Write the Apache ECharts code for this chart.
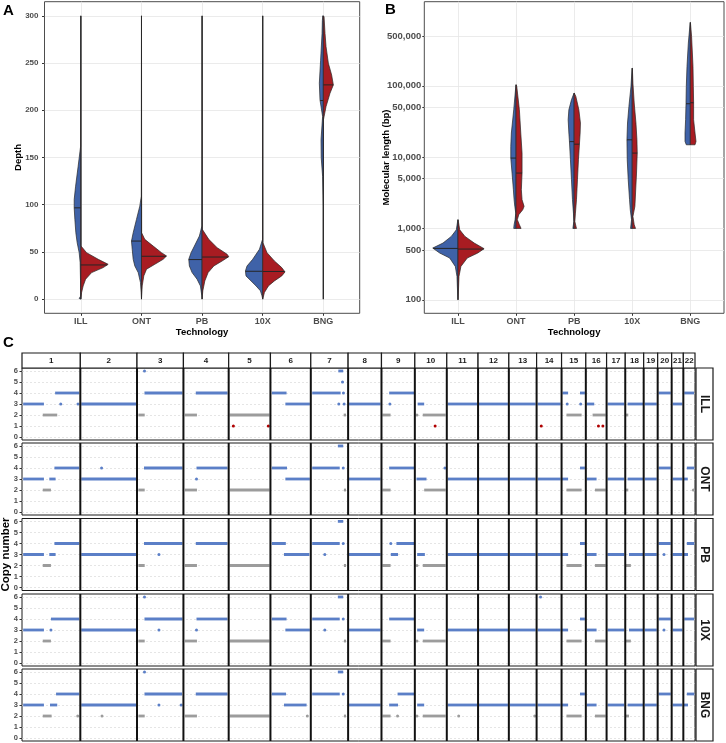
<!DOCTYPE html>
<html><head><meta charset="utf-8">
<script src="https://cdn.jsdelivr.net/npm/echarts@6/dist/echarts.min.js"></script>
<style>html,body{margin:0;padding:0;background:#fff}#c{width:726px;height:743px}</style>
</head><body><div id="c"></div>
<script>
const techs = ['ILL','ONT','PB','10X','BNG'];

// ---- Panel A: depth, split violins: [depth, half-width (category units)]
const depthBlue = [
  [[0,0],[0.7,0.028],[3,0.006],[20,0.006],[38.7,0.012],[49.2,0.028],[59.8,0.061],[70.3,0.083],[84.4,0.099],[96.7,0.11],[105.5,0.11],[119.6,0.087],[140.7,0.045],[162,0.004],[300,0.002]],
  [[0,0],[7,0.005],[17.6,0.017],[28.1,0.054],[35.1,0.11],[42.2,0.137],[52.8,0.153],[61.5,0.165],[70.3,0.137],[84.4,0.083],[98.5,0.028],[109,0.003],[300,0]],
  [[0,0],[3.5,0.005],[14,0.028],[21.1,0.083],[28.1,0.165],[35.1,0.21],[42.2,0.22],[49.2,0.182],[56.2,0.127],[66.8,0.045],[77.4,0.003],[300,0]],
  [[0,0],[3.5,0.012],[8.8,0.038],[14,0.11],[19.3,0.193],[24.6,0.276],[29.9,0.285],[35.1,0.259],[42.2,0.165],[52.8,0.054],[63.3,0.003],[300,0]],
  [[0,0],[98.5,0.002],[130,0.012],[150,0.035],[168.8,0.038],[193.4,0.012],[211,0.055],[228.7,0.066],[253,0.045],[281.4,0.021],[295,0.016],[300,0.01]]
];
const depthRed = [
  [[0,0],[7,0.012],[14,0.038],[21.1,0.078],[28.1,0.177],[33.4,0.368],[36.9,0.45],[42.2,0.286],[49.2,0.094],[56.2,0.003],[300,0]],
  [[0,0],[14,0.012],[24.6,0.038],[31.7,0.083],[36.9,0.22],[42.2,0.358],[45.7,0.413],[49.2,0.33],[56.2,0.193],[63.3,0.054],[70.3,0.003],[300,0]],
  [[0,0],[8.8,0.012],[19.3,0.045],[28.1,0.099],[35.1,0.193],[40.4,0.33],[45,0.44],[47.5,0.413],[54.5,0.248],[63.3,0.11],[73.9,0.003],[300,0]],
  [[0,0],[7,0.028],[14,0.094],[19.3,0.193],[24.6,0.314],[28.8,0.368],[33.4,0.314],[40.4,0.193],[49.2,0.071],[59.8,0.003],[300,0]],
  [[0,0],[190,0.002],[204,0.045],[218,0.11],[226.9,0.165],[237.4,0.137],[249.8,0.083],[267.3,0.045],[281.4,0.028],[299,0.012],[300,0]]
];
const depthMedBlue = [96.7, 61.5, 41.9, 29.5, 210.3];
const depthMedRed  = [36.2, 45.4, 44.6, 29.3, 226.9];
const depthTicks = [0,50,100,150,200,250,300];

// ---- Panel B: molecular length (bp)
const lenBlue = [
  [[100,0.002],[212,0.017],[293,0.046],[385,0.143],[452,0.315],[531,0.435],[624,0.258],[773,0.115],[955,0.029],[1325,0.002]],
  [[1000,0.04],[1127,0.034],[1326,0.017],[1640,0.005],[2040,0.022],[2530,0.034],[3490,0.046],[5980,0.069],[9710,0.091],[14100,0.091],[21800,0.081],[46200,0.04],[103500,0.002]],
  [[1000,0.022],[1254,0.005],[1640,0.012],[2530,0.029],[4820,0.046],[9200,0.064],[16600,0.081],[21800,0.091],[33500,0.103],[46200,0.091],[63800,0.046],[79200,0.002]],
  [[1000,0.029],[1326,0.012],[1830,0.034],[2530,0.046],[4820,0.069],[9200,0.086],[17500,0.091],[30100,0.081],[51400,0.057],[97700,0.022],[177000,0.002]],
  [[14900,0.069],[16600,0.091],[21800,0.091],[33500,0.081],[56100,0.074],[97700,0.069],[187000,0.057],[398000,0.034],[774000,0.002]]
];
const lenRed = [
  [[100,0.002],[212,0.017],[293,0.05],[385,0.16],[452,0.34],[520,0.45],[624,0.28],[773,0.12],[955,0.03],[1325,0.002]],
  [[1000,0.086],[1127,0.057],[1326,0.022],[1556,0.046],[1828,0.115],[2040,0.138],[2530,0.103],[3490,0.091],[5980,0.103],[11400,0.103],[21800,0.081],[46200,0.057],[97700,0.012],[103500,0.002]],
  [[1000,0.04],[1254,0.012],[1640,0.022],[2530,0.04],[4820,0.057],[9200,0.074],[15200,0.091],[21800,0.103],[30100,0.108],[46200,0.081],[71100,0.029],[79200,0.002]],
  [[1000,0.057],[1127,0.034],[1473,0.012],[2040,0.046],[3140,0.057],[5980,0.074],[11400,0.086],[17500,0.081],[30100,0.064],[57400,0.034],[109000,0.012],[177000,0.002]],
  [[14900,0.081],[16600,0.098],[21800,0.081],[33500,0.057],[57900,0.057],[97700,0.052],[187000,0.046],[493000,0.022],[774000,0.002]]
];
const lenMedBlue = [525, 9710, 16500, 17500, 56100];
const lenMedRed  = [514, 5980, 15200, 11400, 57900];
const lenTicks = [100,500,1000,5000,10000,50000,100000,500000];

// ---- Panel C: copy number segments [chromosome, start Mb, end Mb, copy number]
const chromosomes = ['1','2','3','4','5','6','7','8','9','10','11','12','13','14','15','16','17','18','19','20','21','22'];
const chrLen = [250,243,199,194,179,173,160,143,143,137,134,132,119,107,104,89,80,79,60,60,50,50];
const copyTicks = [0,1,2,3,4,5,6];
const cnILL = [
[1,5,94,3],[1,89,151,2],[1,142,245,4],[1,166,166,3],[1,240,240,3],
[2,4,239,3],
[3,6,33,2],[3,32,195,4],[3,32,32,6],
[4,6,58,2],[4,53,189,4],
[5,4,175,2],[5,20,20,1],[5,170,170,1],
[6,6,69,4],[6,64,169,3],
[7,6,128,4],[7,140,140,4],[7,118,139,6],[7,136,136,5],[7,120,120,3],[7,143,143,3],[7,141,151,2],
[8,4,139,3],
[9,4,39,2],[9,33,140,4],[9,36,36,3],
[10,9,9,2],[10,12,40,3],[10,34,132,2],[10,87,87,1],
[11,4,130,3],[12,4,128,3],[13,4,115,3],
[14,4,103,3],[14,20,20,1],
[15,4,28,4],[15,79,100,4],[15,24,24,3],[15,82,82,3],[15,21,86,2],
[16,4,36,3],[16,29,85,2],[16,54,54,1],[16,73,73,1],
[17,4,76,3],
[18,2,13,2],[18,10,76,3],
[19,4,56,3],[20,4,56,4],[21,4,46,3],[22,4,46,4]
];
const cnONT = [
[1,5,94,3],[1,117,144,3],[1,89,124,2],[1,139,245,4],
[2,4,239,3],[2,91,91,4],
[3,6,33,2],[3,30,195,4],
[4,6,58,2],[4,56,189,4],[4,56,56,3],
[5,4,175,2],
[6,6,71,4],[6,64,169,3],
[7,6,124,4],[7,139,139,4],[7,116,139,6],[7,142,151,2],
[8,4,139,3],
[9,4,39,2],[9,33,140,4],
[10,7,50,3],[10,40,132,2],[10,129,129,4],
[11,4,130,3],[12,4,128,3],[13,4,115,3],[14,4,103,3],
[15,1,28,3],[15,21,86,2],[15,79,100,4],
[16,4,46,3],[16,39,85,2],
[17,4,76,3],
[18,2,13,2],[18,10,76,3],
[19,4,56,3],[20,4,56,4],[21,4,46,3],
[22,1,19,3],[22,15,47,4],[22,43,43,2]
];
const cnPB = [
[1,5,94,3],[1,117,144,3],[1,89,124,2],[1,139,245,4],
[2,4,239,3],
[3,6,33,2],[3,30,195,4],[3,94,94,3],
[4,6,58,2],[4,53,189,4],
[5,4,175,2],
[6,6,66,4],[6,58,167,3],
[7,6,124,4],[7,139,139,4],[7,116,139,6],[7,60,60,3],[7,142,151,2],
[8,4,139,3],
[9,4,39,2],[9,40,71,3],[9,40,40,4],[9,64,140,4],
[10,9,9,2],[10,10,43,3],[10,34,132,2],
[11,4,130,3],[12,4,128,3],[13,4,115,3],[14,4,103,3],
[15,1,28,3],[15,21,86,2],[15,79,100,4],
[16,4,46,3],[16,39,85,2],
[17,4,76,3],
[18,2,24,2],[18,16,76,3],
[19,4,56,3],[20,4,56,4],[20,27,27,3],[21,4,46,3],
[22,1,20,3],[22,15,47,4]
];
const cn10X = [
[1,5,94,3],[1,124,124,3],[1,89,124,2],[1,124,245,4],
[2,4,239,3],
[3,6,33,2],[3,32,195,4],[3,32,32,6],[3,94,94,3],
[4,6,58,2],[4,56,189,4],[4,56,56,3],
[5,4,175,2],
[6,6,69,4],[6,64,169,3],
[7,6,124,4],[7,139,139,4],[7,116,139,6],[7,60,60,3],[7,142,151,2],
[8,4,139,3],
[9,4,39,2],[9,33,140,4],
[10,9,9,2],[10,10,40,3],[10,34,132,2],
[11,4,130,3],[12,4,128,3],[13,4,115,3],[14,4,103,3],[14,17,17,6],
[15,1,28,3],[15,21,86,2],[15,79,100,4],
[16,4,46,3],[16,39,85,2],
[17,4,76,3],
[18,2,24,2],[18,16,76,3],
[19,4,56,3],[20,4,56,4],[20,27,27,3],[21,4,46,3],[22,4,46,4]
];
const cnBNG = [
[1,5,94,3],[1,120,151,3],[1,89,127,2],[1,146,245,4],[1,239,239,2],
[2,4,239,3],[2,93,93,2],
[3,6,33,2],[3,32,193,4],[3,32,32,6],[3,94,94,3],[3,189,189,3],
[4,6,58,2],[4,53,189,4],
[5,4,175,2],
[6,6,67,4],[6,58,155,3],[6,158,158,2],
[7,6,124,4],[7,139,139,4],[7,116,139,6],[7,142,151,2],
[8,4,139,3],
[9,4,39,2],[9,69,69,2],[9,33,71,3],[9,69,140,4],
[10,9,9,2],[10,10,40,3],[10,34,132,2],
[11,4,130,3],[11,51,51,2],[12,4,128,3],[13,4,115,3],[13,111,111,2],[14,4,103,3],
[15,1,28,3],[15,21,86,2],[15,79,100,4],
[16,4,46,3],[16,39,85,2],
[17,4,76,3],
[18,2,16,2],[18,10,76,3],
[19,4,56,3],[20,4,56,4],[21,4,46,3],
[22,1,20,3],[22,15,47,4]
];
const cnByTech = [cnILL, cnONT, cnPB, cn10X, cnBNG];

// ---------------- build ----------------
const FONT = '"Liberation Sans", Arial, sans-serif';
const BLUE = '#3F62A8', RED = '#A81C22';
const CN_BLUE = '#5B7FC7', CN_GRAY = '#9c9c9c', CN_RED = '#B00000';
const cum = [0]; chrLen.forEach((l,i)=>cum.push(cum[i]+l));
const total = cum[cum.length-1];

function interpW(prof, med, tf){
  const m = tf(med);
  for (let k=0;k<prof.length-1;k++){
    const a=tf(prof[k][0]), b=tf(prof[k+1][0]);
    if (m>=a && m<=b){ const t=(b===a)?0:(m-a)/(b-a); return prof[k][1]+t*(prof[k+1][1]-prof[k][1]); }
  }
  return 0;
}
function violinSeries(ai, blue, red, medB, medR, tf){
  const items=[]; for(let c=0;c<5;c++){items.push([c,-1]);items.push([c,1]);}
  return {
    type:'custom', xAxisIndex:ai, yAxisIndex:ai, data:items, clip:true, silent:true,
    renderItem(params, api){
      const c=api.value(0), s=api.value(1);
      const prof = s<0?blue[c]:red[c], med = s<0?medB[c]:medR[c];
      const pts=[api.coord([c, tf(prof[0][0])])];
      prof.forEach(p=>pts.push(api.coord([c+s*p[1], tf(p[0])])));
      pts.push(api.coord([c, tf(prof[prof.length-1][0])]));
      const w = interpW(prof, med, tf);
      const m1=api.coord([c, tf(med)]), m2=api.coord([c+s*w, tf(med)]);
      return {type:'group', children:[
        {type:'polygon', shape:{points:pts}, style:{fill:s<0?BLUE:RED, stroke:'#262626', lineWidth:0.7}},
        {type:'line', shape:{x1:m1[0],y1:m1[1],x2:m2[0],y2:m2[1]}, style:{stroke:'#262626', lineWidth:1}}
      ]};
    }
  };
}

const tickTxt = {fontFamily:FONT, fontSize:8, fontWeight:'bold', color:'#4d4d4d'};
const titleTxt = {fontFamily:FONT, fontSize:9.5, fontWeight:'bold', color:'#000'};
const gridLine = {show:true, lineStyle:{color:'#e6e6e6', width:0.8}};
const noLine = {show:false, onZero:false};

const grids=[], xAxes=[], yAxes=[], series=[];
const G = o => Object.assign({outerBoundsMode:'none', containLabel:false}, o);
// Panel A
grids.push(G({left:44.5, right:366.3, top:1.7, height:311.6, show:true, borderColor:'#4d4d4d', borderWidth:1}));
xAxes.push({gridIndex:0, type:'value', min:-0.6, max:4.6, axisLine:noLine,
  axisTick:{show:true, length:2.5, customValues:[0,1,2,3,4], lineStyle:{color:'#333'}},
  axisLabel:Object.assign({customValues:[0,1,2,3,4], formatter:v=>techs[Math.round(v)], margin:4}, tickTxt, {fontSize:9}),
  splitLine:gridLine, name:'Technology', nameLocation:'middle', nameGap:14, nameMoveOverlap:false, nameTextStyle:titleTxt});
yAxes.push({gridIndex:0, type:'value', min:-15, max:315, axisLine:noLine,
  axisTick:{show:true, length:2.5, customValues:depthTicks, lineStyle:{color:'#333'}},
  axisLabel:Object.assign({customValues:depthTicks, margin:6}, tickTxt),
  splitLine:gridLine, name:'Depth', nameLocation:'middle', nameGap:21, nameMoveOverlap:false, nameTextStyle:titleTxt});
series.push(violinSeries(0, depthBlue, depthRed, depthMedBlue, depthMedRed, v=>v));

// Panel B
const lg = v=>Math.log10(v);
grids.push(G({left:424.3, right:2, top:1.7, height:311.6, show:true, borderColor:'#4d4d4d', borderWidth:1}));
xAxes.push({gridIndex:1, type:'value', min:-0.58, max:4.58, axisLine:noLine,
  axisTick:{show:true, length:2.5, customValues:[0,1,2,3,4], lineStyle:{color:'#333'}},
  axisLabel:Object.assign({customValues:[0,1,2,3,4], formatter:v=>techs[Math.round(v)], margin:4}, tickTxt, {fontSize:9}),
  splitLine:gridLine, name:'Technology', nameLocation:'middle', nameGap:14, nameMoveOverlap:false, nameTextStyle:titleTxt});
yAxes.push({gridIndex:1, type:'value', min:1.81, max:6.18, axisLine:noLine,
  axisTick:{show:true, length:2, customValues:lenTicks.map(lg), lineStyle:{color:'#333'}},
  axisLabel:Object.assign({customValues:lenTicks.map(lg), margin:3,
    formatter:v=>Math.round(Math.pow(10,v)).toLocaleString('en-US')}, tickTxt, {fontSize:9.5}),
  splitLine:gridLine, name:'Molecular length (bp)', nameLocation:'middle', nameGap:33, nameMoveOverlap:false, nameTextStyle:titleTxt});
series.push(violinSeries(1, lenBlue, lenRed, lenMedBlue, lenMedRed, lg));

// Panel C header strip
grids.push(G({left:22, width:673, top:353, height:15}));
xAxes.push({gridIndex:2, type:'value', min:0, max:total, show:false});
yAxes.push({gridIndex:2, type:'value', min:0, max:1, show:false});
series.push({type:'custom', xAxisIndex:2, yAxisIndex:2, silent:true,
  data:chromosomes.map((c,i)=>[i]),
  renderItem(params, api){
    const i=api.value(0);
    const p1=api.coord([cum[i],1]), p2=api.coord([cum[i+1],0]);
    return {type:'group', children:[
      {type:'rect', shape:{x:p1[0], y:p1[1], width:p2[0]-p1[0], height:p2[1]-p1[1]}, style:{fill:'#fff', stroke:'#1a1a1a', lineWidth:1.2}},
      {type:'text', x:(p1[0]+p2[0])/2, y:(p1[1]+p2[1])/2, style:{text:chromosomes[i], fill:'#1a1a1a', font:'bold 8px '+FONT, align:'center', verticalAlign:'middle'}}
    ]};
  }});

const rowTops=[368,443,518.5,594,669];
techs.forEach((t,r)=>{
  const gi = grids.length;
  grids.push(G({left:22, width:673, top:rowTops[r], height:72, show:true, borderColor:'#1a1a1a', borderWidth:1}));
  xAxes.push({gridIndex:gi, type:'value', min:0, max:total, show:false});
  const ya = {gridIndex:gi, type:'value', min:-0.27, max:6.27, axisLine:noLine,
    axisTick:{show:true, length:2.5, customValues:copyTicks, lineStyle:{color:'#333'}},
    axisLabel:Object.assign({customValues:copyTicks, margin:4}, tickTxt, {fontSize:7.5}),
    splitLine:{show:true, lineStyle:{color:'#d4d4d4', width:0.6, type:[2,2]}}};
  if (r===2){ Object.assign(ya, {name:'Copy number', nameLocation:'middle', nameGap:10, nameMoveOverlap:false, nameTextStyle:Object.assign({}, titleTxt, {fontSize:11.5})}); }
  yAxes.push(ya);
  series.push({type:'custom', xAxisIndex:gi, yAxisIndex:gi, silent:true, clip:true,
    data:cnByTech[r],
    renderItem(params, api){
      const chr=api.value(0)-1, s=api.value(1), e=api.value(2), cn=api.value(3);
      const col = cn>2?CN_BLUE:(cn===2?CN_GRAY:CN_RED);
      const a=api.coord([cum[chr]+s, cn]), b=api.coord([cum[chr]+e, cn]);
      if (e-s<0.5) return {type:'circle', shape:{cx:a[0], cy:a[1], r:1.5}, style:{fill:col}};
      return {type:'line', shape:{x1:a[0],y1:a[1],x2:b[0],y2:b[1]}, style:{stroke:col, lineWidth:2.8, lineCap:'butt'}};
    }});
  series.push({type:'custom', xAxisIndex:gi, yAxisIndex:gi, silent:true,
    data:cum.slice(1,-1).map(v=>[v]),
    renderItem(params, api){
      const p=api.coord([api.value(0),0]); const cs=params.coordSys;
      return {type:'line', shape:{x1:p[0],y1:cs.y,x2:p[0],y2:cs.y+cs.height}, style:{stroke:'#111', lineWidth:2}};
    }});
  const si = grids.length;
  grids.push(G({left:696, width:17, top:rowTops[r], height:72}));
  xAxes.push({gridIndex:si, type:'value', min:0, max:1, show:false});
  yAxes.push({gridIndex:si, type:'value', min:0, max:1, show:false});
  series.push({type:'custom', xAxisIndex:si, yAxisIndex:si, silent:true, data:[[0]],
    renderItem(params, api){
      const p1=api.coord([0,1]), p2=api.coord([1,0]);
      return {type:'group', children:[
        {type:'rect', shape:{x:p1[0], y:p1[1], width:p2[0]-p1[0], height:p2[1]-p1[1]}, style:{fill:'#fff', stroke:'#1a1a1a', lineWidth:1.2}},
        {type:'text', x:(p1[0]+p2[0])/2, y:(p1[1]+p2[1])/2, rotation:-Math.PI/2, style:{text:t, fill:'#1a1a1a', font:'bold 12px '+FONT, align:'center', verticalAlign:'middle'}}
      ]};
    }});
});

const chart = echarts.init(document.getElementById('c'), null, {renderer:'canvas'});
chart.setOption({
  animation:false, backgroundColor:'#fff',
  grid:grids, xAxis:xAxes, yAxis:yAxes, series:series,
  graphic:[
    {type:'text', left:3, top:3, style:{text:'A', font:'bold 15px '+FONT, fill:'#000'}},
    {type:'text', left:385, top:2, style:{text:'B', font:'bold 15px '+FONT, fill:'#000'}},
    {type:'text', left:3, top:335, style:{text:'C', font:'bold 15px '+FONT, fill:'#000'}}
  ]
});
</script></body></html>
